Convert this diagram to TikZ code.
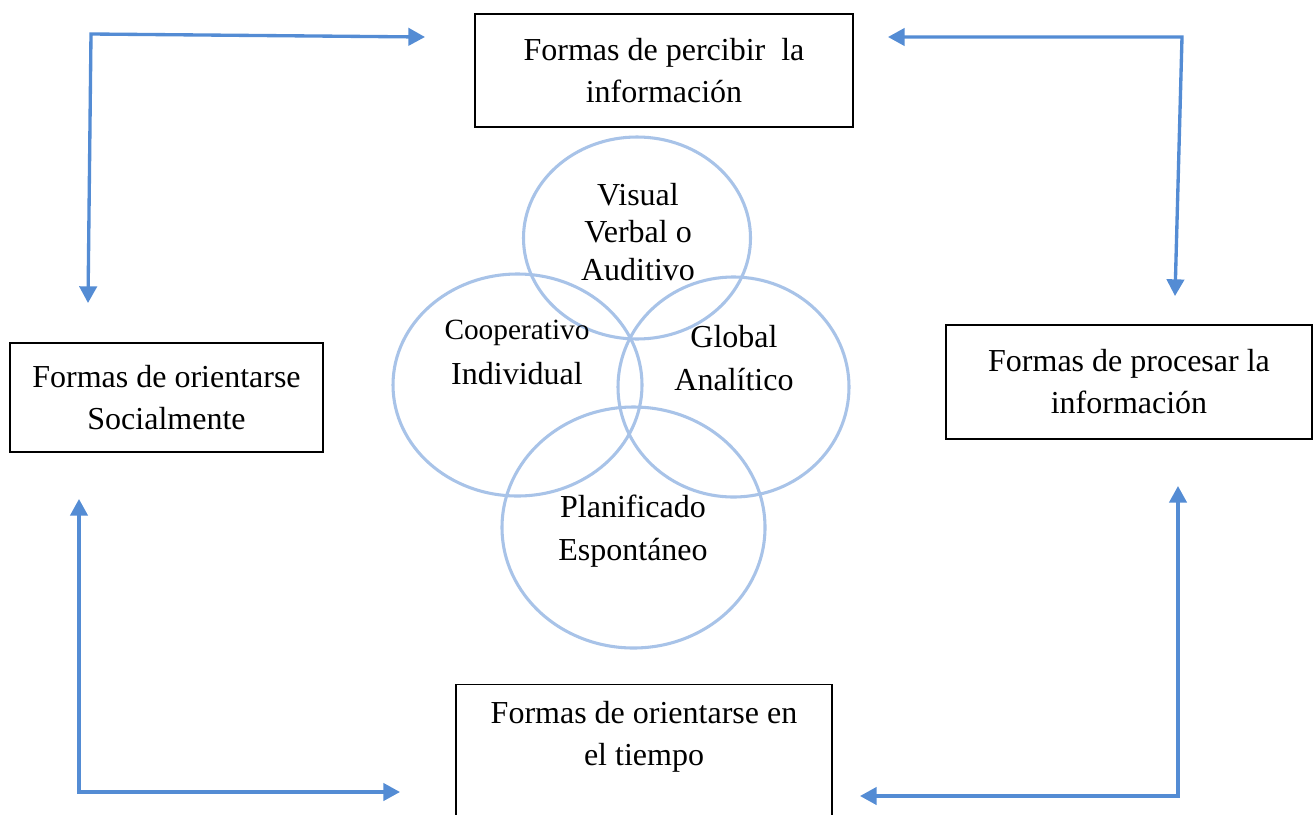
\documentclass[tikz,border=0pt]{standalone}
\usepackage{fontspec}
\setmainfont{Liberation Serif}
\usetikzlibrary{arrows.meta,shapes.geometric}
\definecolor{arrowblue}{RGB}{84,140,212}
\definecolor{ringblue}{RGB}{168,195,232}
\tikzset{
  boxnode/.style={draw=black, line width=1.1pt, rectangle, align=center, inner sep=0pt,
    font=\fontsize{24}{31.5}\selectfont},
  plaintext/.style={align=center, inner sep=0pt, font=\fontsize{24}{28}\selectfont},
  ring/.style={draw=ringblue, line width=2.3pt, ellipse, inner sep=0pt},
  conn/.style={draw=arrowblue, line width=2.5pt,
    {Triangle[length=12.5pt,width=13pt]}-{Triangle[length=12.5pt,width=13pt]}}
}
\begin{document}
\begin{tikzpicture}[x=0.75pt,y=-0.75pt]
\useasboundingbox (0,0) rectangle (1316,814);
\clip (0,0) rectangle (1316,814);
\fill[white] (0,0) rectangle (1316,814);

% boxes
\node[boxnode, minimum width={378*0.75pt}, minimum height={113*0.75pt}] (top) at (664,70.5)
  {Formas de percibir~ la\\información};
\node[boxnode, minimum width={313*0.75pt}, minimum height={109*0.75pt}] (left) at (166.5,397.5)
  {Formas de orientarse\\Socialmente};
\node[boxnode, minimum width={366*0.75pt}, minimum height={114*0.75pt}] (right) at (1129,382)
  {Formas de procesar la\\información};
\node[boxnode, minimum width={376*0.75pt}, minimum height={160*0.75pt}, anchor=north] (bottom) at (644,684) {};
\node[plaintext, font=\fontsize{24}{31.5}\selectfont] (bottomtext) at (644,737)
  {Formas de orientarse en\\el tiempo};

% rings
\node[ring, minimum width={227*0.75pt}, minimum height={202*0.75pt}] (c1) at (637,238) {};
\node[ring, minimum width={249*0.75pt}, minimum height={222*0.75pt}] (c2) at (517.5,385) {};
\node[ring, minimum width={231*0.75pt}, minimum height={220*0.75pt}] (c3) at (733.5,387) {};
\node[ring, minimum width={263*0.75pt}, minimum height={241*0.75pt}] (c4) at (633.5,527.5) {};

% ring texts
\node[plaintext] (t1) at (638,232) {Visual\\Verbal o\\Auditivo};
\node[plaintext, font=\fontsize{22}{30}\selectfont] (t2a) at (517,333) {Cooperativo};
\node[plaintext] (t2b) at (517,374) {Individual};
\node[plaintext, font=\fontsize{24}{32}\selectfont] (t3) at (734,358) {Global\\Analítico};
\node[plaintext, font=\fontsize{24}{32}\selectfont] (t4) at (633,531) {Planificado\\Espontáneo};

% connectors
\coordinate (a1s) at (88,303);
\coordinate (a1c) at (91,34);
\coordinate (a1e) at (425,37);
\draw[conn] (a1s) -- (a1c) -- (a1e);

\coordinate (a2s) at (888,37);
\coordinate (a2c) at (1182,37);
\coordinate (a2e) at (1175,296);
\draw[conn] (a2s) -- (a2c) -- (a2e);

\coordinate (a3s) at (79,499);
\coordinate (a3c) at (79,792);
\coordinate (a3e) at (400,792);
\draw[conn] (a3s) -- (a3c) -- (a3e);

\coordinate (a4s) at (1178,486);
\coordinate (a4c) at (1178,796);
\coordinate (a4e) at (860,796);
\draw[conn] (a4s) -- (a4c) -- (a4e);
\end{tikzpicture}
\end{document}
